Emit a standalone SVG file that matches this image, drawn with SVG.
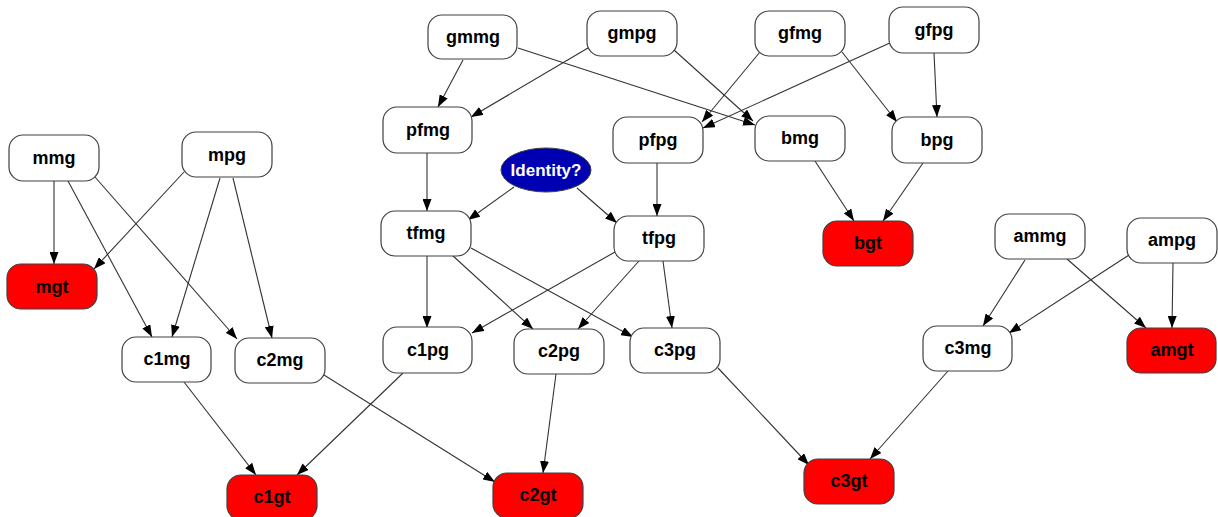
<svg xmlns="http://www.w3.org/2000/svg" width="1218" height="517" viewBox="0 0 1218 517">
<style>
.n rect{fill:#fff;stroke:#404040;stroke-width:1.2}
.r rect{fill:#ff0000}
.n text{font-family:"Liberation Sans",Arial,sans-serif;font-weight:bold;font-size:18px;text-anchor:middle;fill:#000}
.e line{stroke:#333;stroke-width:1.1;marker-end:url(#a)}
#Identity ellipse{fill:#0000b3;stroke:#404040;stroke-width:1}
#Identity text{fill:#fff;font-size:17px}
</style>
<defs>
<marker id="a" viewBox="0 0 12 9" refX="12" refY="4.5" markerWidth="12" markerHeight="9" markerUnits="userSpaceOnUse" orient="auto">
<path d="M0,0 L12,4.5 L0,9 z" fill="#000"/>
</marker>
</defs>
<rect width="1218" height="517" fill="#fff"/>
<g class="e">
<line x1="54" y1="181" x2="54" y2="264"/>
<line x1="184" y1="172" x2="94" y2="269"/>
<line x1="68" y1="181" x2="152" y2="337"/>
<line x1="95" y1="177" x2="237" y2="339"/>
<line x1="220" y1="178" x2="172" y2="337"/>
<line x1="233" y1="178" x2="272" y2="338"/>
<line x1="463" y1="60" x2="438" y2="107"/>
<line x1="518" y1="48" x2="755" y2="125"/>
<line x1="588" y1="48" x2="471" y2="117"/>
<line x1="674" y1="50" x2="753" y2="121"/>
<line x1="760" y1="52" x2="702" y2="122"/>
<line x1="892" y1="42" x2="703" y2="128"/>
<line x1="842" y1="52" x2="897" y2="122"/>
<line x1="934" y1="53" x2="937" y2="117"/>
<line x1="427" y1="153" x2="427" y2="211"/>
<line x1="657" y1="163" x2="657" y2="216"/>
<line x1="514" y1="187" x2="468" y2="220"/>
<line x1="577" y1="188" x2="617" y2="223"/>
<line x1="815" y1="161" x2="854" y2="221"/>
<line x1="923" y1="163" x2="883" y2="221"/>
<line x1="427" y1="256" x2="427" y2="328"/>
<line x1="452" y1="255" x2="533" y2="329"/>
<line x1="471" y1="248" x2="633" y2="337"/>
<line x1="615" y1="252" x2="472" y2="333"/>
<line x1="639" y1="261" x2="578" y2="329"/>
<line x1="663" y1="261" x2="672" y2="328"/>
<line x1="184" y1="382" x2="256" y2="475"/>
<line x1="403" y1="373" x2="297" y2="475"/>
<line x1="324" y1="375" x2="495" y2="482"/>
<line x1="556" y1="374" x2="543" y2="473"/>
<line x1="718" y1="368" x2="809" y2="465"/>
<line x1="948" y1="371" x2="870" y2="459"/>
<line x1="1025" y1="260" x2="983" y2="326"/>
<line x1="1067" y1="259" x2="1146" y2="328"/>
<line x1="1129" y1="255" x2="1009" y2="333"/>
<line x1="1173" y1="263" x2="1172" y2="328"/>
</g>
<g id="mmg" class="n"><rect x="9" y="135" width="90" height="46" rx="14"/><text x="54" y="164">mmg</text></g>
<g id="mpg" class="n"><rect x="182" y="132" width="90" height="45" rx="14"/><text x="227" y="161">mpg</text></g>
<g id="mgt" class="n r"><rect x="7" y="264" width="90" height="45" rx="14"/><text x="52" y="293">mgt</text></g>
<g id="gmmg" class="n"><rect x="428" y="15" width="89" height="44" rx="14"/><text x="473" y="43">gmmg</text></g>
<g id="gmpg" class="n"><rect x="587" y="11" width="90" height="45" rx="14"/><text x="632" y="39">gmpg</text></g>
<g id="gfmg" class="n"><rect x="755" y="11" width="90" height="45" rx="14"/><text x="800" y="39">gfmg</text></g>
<g id="gfpg" class="n"><rect x="889" y="7" width="90" height="46" rx="14"/><text x="934" y="36">gfpg</text></g>
<g id="pfmg" class="n"><rect x="383" y="107" width="89" height="46" rx="14"/><text x="428" y="136">pfmg</text></g>
<g id="pfpg" class="n"><rect x="613" y="117" width="90" height="46" rx="14"/><text x="658" y="146">pfpg</text></g>
<g id="bmg" class="n"><rect x="755" y="116" width="90" height="45" rx="14"/><text x="800" y="144">bmg</text></g>
<g id="bpg" class="n"><rect x="892" y="117" width="90" height="46" rx="14"/><text x="937" y="146">bpg</text></g>
<g id="Identity" class="n"><ellipse cx="546" cy="170" rx="45" ry="22"/><text x="546" y="176">Identity?</text></g>
<g id="tfmg" class="n"><rect x="381" y="211" width="90" height="45" rx="14"/><text x="426" y="239">tfmg</text></g>
<g id="tfpg" class="n"><rect x="614" y="216" width="90" height="45" rx="14"/><text x="659" y="244">tfpg</text></g>
<g id="bgt" class="n r"><rect x="823" y="221" width="90" height="45" rx="14"/><text x="868" y="249">bgt</text></g>
<g id="ammg" class="n"><rect x="995" y="214" width="90" height="45" rx="14"/><text x="1040" y="242">ammg</text></g>
<g id="ampg" class="n"><rect x="1127" y="218" width="90" height="45" rx="14"/><text x="1172" y="246">ampg</text></g>
<g id="c1mg" class="n"><rect x="122" y="337" width="89" height="45" rx="14"/><text x="167" y="365">c1mg</text></g>
<g id="c2mg" class="n"><rect x="235" y="338" width="90" height="45" rx="14"/><text x="280" y="366">c2mg</text></g>
<g id="c1pg" class="n"><rect x="383" y="327" width="89" height="46" rx="14"/><text x="428" y="356">c1pg</text></g>
<g id="c2pg" class="n"><rect x="514" y="329" width="90" height="45" rx="14"/><text x="559" y="357">c2pg</text></g>
<g id="c3pg" class="n"><rect x="630" y="328" width="90" height="45" rx="14"/><text x="675" y="356">c3pg</text></g>
<g id="c3mg" class="n"><rect x="923" y="326" width="89" height="45" rx="14"/><text x="968" y="354">c3mg</text></g>
<g id="amgt" class="n r"><rect x="1127" y="328" width="89" height="45" rx="14"/><text x="1172" y="356">amgt</text></g>
<g id="c1gt" class="n r"><rect x="227" y="475" width="90" height="45" rx="14"/><text x="272" y="503">c1gt</text></g>
<g id="c2gt" class="n r"><rect x="493" y="473" width="90" height="45" rx="14"/><text x="538" y="501">c2gt</text></g>
<g id="c3gt" class="n r"><rect x="804" y="459" width="90" height="45" rx="14"/><text x="849" y="487">c3gt</text></g>
</svg>
